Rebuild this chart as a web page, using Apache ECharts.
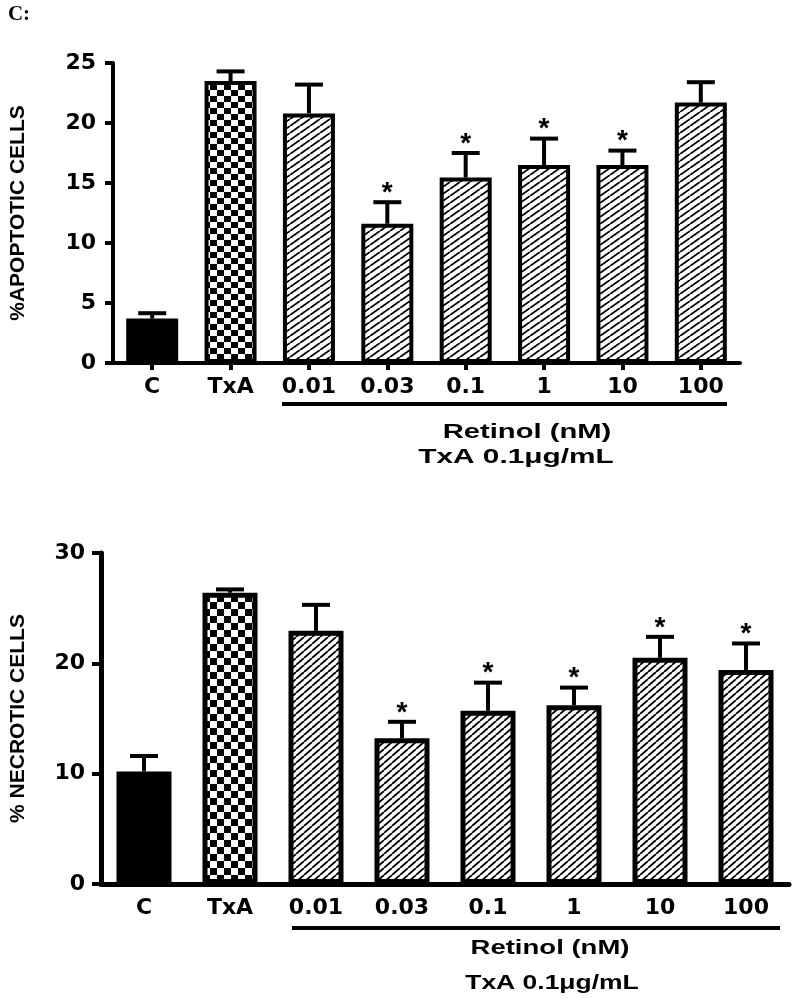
<!DOCTYPE html>
<html>
<head>
<meta charset="utf-8">
<script src="https://cdn.jsdelivr.net/npm/echarts@6/dist/echarts.min.js"></script>
<style>
html,body{margin:0;padding:0;background:#fff;}
#chart{width:800px;height:1006px;}
</style>
</head>
<body>
<div id="chart"></div>
<script>
// ---- data ----
const categories = ['C', 'TxA', '0.01', '0.03', '0.1', '1', '10', '100'];
const fills = ['solid', 'checker', 'hatch', 'hatch', 'hatch', 'hatch', 'hatch', 'hatch'];

const apoptoticMean = [3.7, 23.5, 20.8, 11.6, 15.45, 16.5, 16.5, 21.7];
const apoptoticSEM  = [0.45, 0.8, 2.4, 1.8, 2.05, 2.2, 1.2, 1.7];
const apoptoticSig  = [0, 0, 0, 1, 1, 1, 1, 0];
const apoptoticTicks = [0, 5, 10, 15, 20, 25];

const necroticMean = [10.2, 26.4, 22.95, 13.2, 15.7, 16.2, 20.5, 19.4];
const necroticSEM  = [1.4, 0.3, 2.35, 1.5, 2.55, 1.6, 1.9, 2.4];
const necroticSig  = [0, 0, 0, 1, 1, 1, 1, 1];
const necroticTicks = [0, 10, 20, 30];

// ---- patterns ----
function hatchPattern(w, h, lw) {
  const c = document.createElement('canvas');
  c.width = w; c.height = h;
  const ctx = c.getContext('2d');
  ctx.fillStyle = '#fff'; ctx.fillRect(0, 0, w, h);
  ctx.strokeStyle = '#000'; ctx.lineWidth = lw;
  for (const dx of [-w, 0, w]) {
    ctx.beginPath(); ctx.moveTo(dx, h); ctx.lineTo(dx + w, 0); ctx.stroke();
  }
  return c;
}
function checkerPattern(sw, sh) {
  const c = document.createElement('canvas');
  c.width = sw * 2; c.height = sh * 2;
  const ctx = c.getContext('2d');
  ctx.fillStyle = '#fff'; ctx.fillRect(0, 0, sw * 2, sh * 2);
  ctx.fillStyle = '#000';
  ctx.fillRect(0, 0, sw, sh);
  ctx.fillRect(sw, sh, sw, sh);
  return c;
}
const topPatterns = {
  solid: '#000',
  checker: { image: checkerPattern(7, 6), repeat: 'repeat' },
  hatch: { image: hatchPattern(10, 7, 1.8), repeat: 'repeat' }
};
const botPatterns = {
  solid: '#000',
  checker: { image: checkerPattern(7, 7), repeat: 'repeat' },
  hatch: { image: hatchPattern(8, 7, 1.8), repeat: 'repeat' }
};

function barData(values, pats) {
  return values.map((v, i) => ({ value: v, itemStyle: { color: pats[fills[i]] } }));
}
function errData(means, sems, sig) {
  return means.map((m, i) => [i, m, sems[i], sig[i]]);
}
function errRender(params, api) {
  const i = api.value(0), m = api.value(1), e = api.value(2), s = api.value(3);
  const p0 = api.coord([i, m]);
  const p1 = api.coord([i, m + e]);
  const cap = 14;
  const children = [
    { type: 'line', shape: { x1: p0[0], y1: p0[1], x2: p1[0], y2: p1[1] }, style: { stroke: '#000', lineWidth: 4 } },
    { type: 'line', shape: { x1: p1[0] - cap, y1: p1[1], x2: p1[0] + cap, y2: p1[1] }, style: { stroke: '#000', lineWidth: 4 } }
  ];
  if (s) {
    children.push({
      type: 'text',
      style: { text: '*', x: p1[0], y: p1[1] - 9, align: 'center', verticalAlign: 'middle',
               textAlign: 'center', textVerticalAlign: 'middle',
               font: 'bold 28px "Liberation Sans", Arial, sans-serif', fill: '#000' }
    });
  }
  return { type: 'group', children };
}

const tickFont = { fontFamily: '"DejaVu Sans", sans-serif', fontWeight: 'bold', fontSize: 22, color: '#000' };
const catFont = { fontFamily: '"DejaVu Sans", sans-serif', fontWeight: 'bold', fontSize: 22, color: '#000' };
const nameFont = { fontFamily: '"Liberation Sans", Arial, sans-serif', fontWeight: 'bold', fontSize: 21, color: '#000' };

function txt(str, cx, cy, size, sx, family) {
  return {
    type: 'text', x: cx, y: cy, scaleX: sx, scaleY: 1, silent: true,
    style: { text: str, x: 0, y: 0, align: 'center', verticalAlign: 'middle',
             textAlign: 'center', textVerticalAlign: 'middle',
             font: 'bold ' + size + 'px ' + (family || '"Liberation Sans", Arial, sans-serif'), fill: '#000' }
  };
}

const chart = echarts.init(document.getElementById('chart'), null, { renderer: 'canvas' });
chart.setOption({
  animation: false,
  backgroundColor: '#fff',
  grid: [
    { left: 104, top: 63, width: 636, height: 300 },
    { left: 93, top: 553, width: 696, height: 331 }
  ],
  xAxis: [
    { gridIndex: 0, type: 'category', data: categories,
      axisLine: { lineStyle: { color: '#000', width: 4 } },
      axisTick: { show: true, alignWithLabel: true, length: 7, lineStyle: { color: '#000', width: 4 } },
      axisLabel: Object.assign({ margin: 13, interval: 0 }, catFont) },
    { gridIndex: 1, type: 'category', data: categories,
      axisLine: { lineStyle: { color: '#000', width: 5 } },
      axisTick: { show: false },
      axisLabel: Object.assign({ margin: 13, interval: 0 }, catFont) }
  ],
  yAxis: [
    { gridIndex: 0, type: 'value', min: apoptoticTicks[0], max: apoptoticTicks[apoptoticTicks.length - 1], interval: 5,
      name: '%APOPTOTIC CELLS', nameLocation: 'middle', nameRotate: 90, nameGap: 84, nameTextStyle: nameFont,
      axisLine: { show: true, lineStyle: { color: '#000', width: 4 } },
      axisTick: { show: true, length: 8, lineStyle: { color: '#000', width: 4 } },
      axisLabel: Object.assign({ margin: 17 }, tickFont),
      splitLine: { show: false } },
    { gridIndex: 1, type: 'value', min: necroticTicks[0], max: necroticTicks[necroticTicks.length - 1], interval: 10,
      name: '% NECROTIC CELLS', nameLocation: 'middle', nameRotate: 90, nameGap: 72, nameTextStyle: nameFont,
      axisLine: { show: true, lineStyle: { color: '#000', width: 5 } },
      axisTick: { show: true, length: 9, lineStyle: { color: '#000', width: 4 } },
      axisLabel: Object.assign({ margin: 16 }, tickFont),
      splitLine: { show: false } }
  ],
  series: [
    { type: 'bar', xAxisIndex: 0, yAxisIndex: 0, barWidth: 52, data: barData(apoptoticMean, topPatterns),
      itemStyle: { borderColor: '#000', borderWidth: 4 }, z: 2 },
    { type: 'custom', xAxisIndex: 0, yAxisIndex: 0, renderItem: errRender, data: errData(apoptoticMean, apoptoticSEM, apoptoticSig), z: 3 },
    { type: 'bar', xAxisIndex: 1, yAxisIndex: 1, barWidth: 55, data: barData(necroticMean, botPatterns),
      itemStyle: { borderColor: '#000', borderWidth: 5 }, z: 2 },
    { type: 'custom', xAxisIndex: 1, yAxisIndex: 1, renderItem: errRender, data: errData(necroticMean, necroticSEM, necroticSig), z: 3 }
  ],
  graphic: [
    txt('C:', 19, 15, 21, 1, '"Liberation Serif", "Times New Roman", serif'),
    { type: 'line', silent: true, shape: { x1: 282, y1: 404, x2: 727, y2: 404 }, style: { stroke: '#000', lineWidth: 4 } },
    txt('Retinol (nM)', 527, 432, 21, 1.39),
    txt('TxA 0.1\u03bcg/mL', 516, 457, 21, 1.42),
    { type: 'line', silent: true, shape: { x1: 292, y1: 928, x2: 780, y2: 928 }, style: { stroke: '#000', lineWidth: 4 } },
    txt('Retinol (nM)', 550, 948, 21, 1.31),
    txt('TxA 0.1\u03bcg/mL', 552, 983, 21, 1.26)
  ]
});
</script>
</body>
</html>
